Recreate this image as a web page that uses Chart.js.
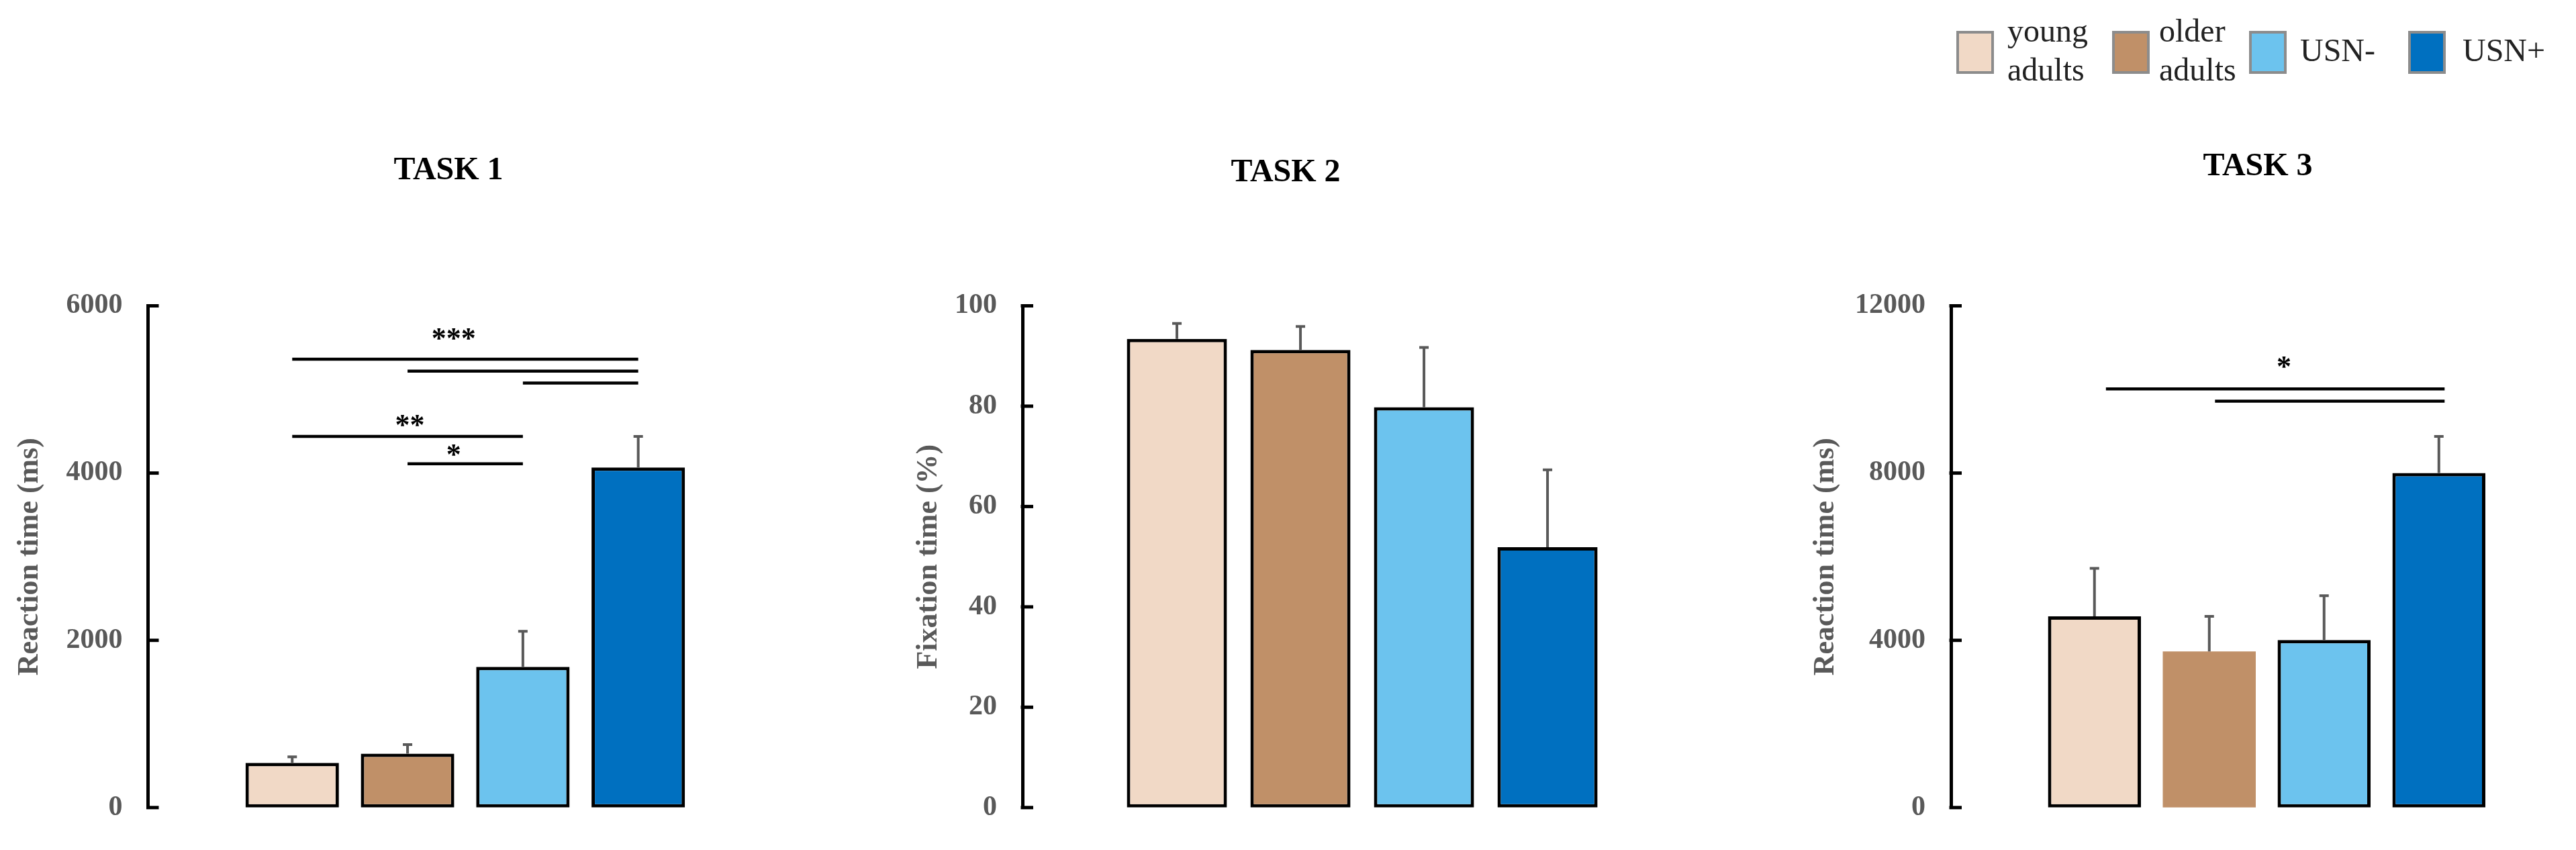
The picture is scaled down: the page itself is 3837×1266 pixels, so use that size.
<!DOCTYPE html>
<html>
<head>
<meta charset="utf-8">
<script src="https://cdn.jsdelivr.net/npm/chart.js@4.4.1/dist/chart.umd.min.js"></script>
<style>
  html, body { margin: 0; padding: 0; background: #ffffff; width: 3837px; height: 1266px; overflow: hidden; }
  canvas { position: absolute; top: 0; }
</style>
</head>
<body>
<canvas id="c1" width="1336" height="1266" style="left:0px"></canvas>
<canvas id="c2" width="1150" height="1266" style="left:1340px"></canvas>
<canvas id="c3" width="1337" height="1266" style="left:2500px"></canvas>
<script>
// ---------------- data ----------------
const groups = ['young adults', 'older adults', 'USN-', 'USN+'];
const groupColors = ['#F1D9C6', '#C09068', '#6CC3EE', '#0070C0'];

const taskTitles = ['TASK 1', 'TASK 2', 'TASK 3'];
const axisTitles = ['Reaction time (ms)', 'Fixation time (%)', 'Reaction time (ms)'];

const task1Means  = [535, 644, 1682, 4067];
const task1Errors = [71, 109, 425, 372];
const task1Ticks  = [0, 2000, 4000, 6000];
const task1SigLines = [[0, 3, 5361], [1, 3, 5219], [2, 3, 5077], [0, 2, 4438], [1, 2, 4111]];
const task1Stars    = [[1.40, 5667, '***'], [1.02, 4630, '**'], [1.40, 4275, '*']];

const task2Means  = [93.4, 91.2, 79.8, 51.9];
const task2Errors = [3.1, 4.7, 11.9, 15.4];
const task2Ticks  = [0, 20, 40, 60, 80, 100];

const task3Means  = [4575, 3734, 4007, 8003];
const task3Errors = [1146, 841, 1059, 874];
const task3Ticks  = [0, 4000, 8000, 12000];
const task3SigLines = [[0.1, 3.05, 10013], [1.05, 3.05, 9718]];
const task3Stars    = [[1.65, 10657, '*']];

// ---------------- styling ----------------
const FONT = "'Liberation Serif', 'Times New Roman', serif";
const LABEL_GRAY = '#595959';

function decorPlugin(means, errors, sigLines, stars) {
  return {
    id: 'decor',
    afterDatasetsDraw(chart) {
      const { ctx, chartArea } = chart;
      const xs = chart.scales.x, ys = chart.scales.y;
      ctx.save();
      // inward tick marks
      ctx.strokeStyle = '#000'; ctx.lineWidth = 5; ctx.lineCap = 'butt';
      ys.ticks.forEach(t => {
        const y = ys.getPixelForValue(t.value);
        ctx.beginPath(); ctx.moveTo(chartArea.left - 2.5, y); ctx.lineTo(chartArea.left + 16, y); ctx.stroke();
      });
      // error bars
      const meta = chart.getDatasetMeta(0);
      ctx.strokeStyle = '#595959'; ctx.lineWidth = 4;
      meta.data.forEach((bar, i) => {
        const yb = ys.getPixelForValue(means[i]);
        const yt = ys.getPixelForValue(means[i] + errors[i]);
        ctx.beginPath();
        ctx.moveTo(bar.x, yb); ctx.lineTo(bar.x, yt);
        ctx.moveTo(bar.x - 7, yt); ctx.lineTo(bar.x + 7, yt);
        ctx.stroke();
      });
      // significance lines
      ctx.strokeStyle = '#000'; ctx.lineWidth = 4.5;
      sigLines.forEach(([a, b, v]) => {
        const y = ys.getPixelForValue(v);
        ctx.beginPath(); ctx.moveTo(xs.getPixelForValue(a), y); ctx.lineTo(xs.getPixelForValue(b), y); ctx.stroke();
      });
      ctx.fillStyle = '#000';
      ctx.font = 'bold 44px ' + FONT;
      ctx.textAlign = 'center'; ctx.textBaseline = 'alphabetic';
      stars.forEach(([x, v, s]) => {
        ctx.fillText(s, xs.getPixelForValue(x), ys.getPixelForValue(v) + 0.47 * 44);
      });
      ctx.restore();
    }
  };
}

const legendPlugin = {
  id: 'groupLegend',
  afterDraw(chart) {
    const ctx = chart.ctx;
    const boxX = [414, 646, 850, 1087], textX = [490, 716, 926, 1168];
    const top = 46, w = 56, h = 64, lineGap = 58;
    ctx.save();
    groups.forEach((g, i) => {
      ctx.fillStyle = groupColors[i];
      ctx.fillRect(boxX[i], top, w, h);
      ctx.strokeStyle = '#8C8C8C'; ctx.lineWidth = 4;
      ctx.strokeRect(boxX[i] + 2, top + 2, w - 4, h - 4);
      ctx.fillStyle = '#222';
      ctx.font = '48px ' + FONT;
      ctx.textAlign = 'left'; ctx.textBaseline = 'middle';
      const lines = g.split(' ');
      const cy = top + h / 2;
      lines.forEach((ln, k) => ctx.fillText(ln, textX[i], cy + (k - (lines.length - 1) / 2) * lineGap));
    });
    ctx.restore();
  }
};

function makePanel(id, cfg) {
  const data = cfg.means.map((v, i) => ({ x: i, y: v }));
  const plugins = [decorPlugin(cfg.means, cfg.errors, cfg.sigLines, cfg.stars)];
  if (cfg.legend) plugins.push(legendPlugin);
  return new Chart(document.getElementById(id), {
    type: 'bar',
    data: {
      datasets: [{
        label: cfg.title,
        data: data,
        backgroundColor: groupColors,
        borderColor: '#000',
        borderWidth: cfg.borderWidths,
        borderSkipped: false,
        barPercentage: 0.81,
        categoryPercentage: 1.0
      }]
    },
    options: {
      responsive: false,
      animation: false,
      devicePixelRatio: 1,
      layout: { padding: { top: 0, bottom: 62, left: 0, right: cfg.padRight } },
      plugins: {
        legend: { display: false },
        tooltip: { enabled: false },
        title: {
          display: true,
          text: cfg.title,
          color: '#000',
          fullSize: cfg.titleFull,
          font: { family: FONT, size: 48, weight: 'bold', lineHeight: 1.2 },
          padding: { top: cfg.titleTop, bottom: cfg.titleBottom }
        }
      },
      scales: {
        x: {
          type: 'linear', display: false, offset: false,
          min: -1.25, max: cfg.xMax,
          afterBuildTicks: s => { s.ticks = groups.map((g, i) => ({ value: i })); }
        },
        y: {
          min: 0, max: cfg.ticks[cfg.ticks.length - 1],
          afterFit: s => { s.width = cfg.axisWidth; },
          afterBuildTicks: s => { s.ticks = cfg.ticks.map(v => ({ value: v })); },
          grid: { display: false, drawTicks: false },
          border: { display: true, color: '#000', width: 5 },
          ticks: {
            padding: 38, color: LABEL_GRAY,
            font: { family: FONT, size: 42, weight: 'bold' },
            callback: v => String(v)
          },
          title: {
            display: true, text: cfg.yTitle, color: LABEL_GRAY,
            font: { family: FONT, size: 44, weight: 'bold', lineHeight: 1.2 },
            padding: { top: cfg.yTitlePad, bottom: 0 }
          }
        }
      }
    },
    plugins: plugins
  });
}

makePanel('c1', {
  title: taskTitles[0], yTitle: axisTitles[0],
  means: task1Means, errors: task1Errors, ticks: task1Ticks,
  sigLines: task1SigLines, stars: task1Stars,
  borderWidths: [5, 5, 5, 5],
  axisWidth: 220.5, xMax: 5.243, padRight: 0, titleFull: true,
  titleTop: 225.7, titleBottom: 172.2, yTitlePad: 18.6
});

makePanel('c2', {
  title: taskTitles[1], yTitle: axisTitles[1],
  means: task2Means, errors: task2Errors, ticks: task2Ticks,
  sigLines: [], stars: [],
  borderWidths: [5, 5, 5, 5],
  axisWidth: 183, xMax: 4.005, padRight: 0, titleFull: true,
  titleTop: 229.2, titleBottom: 168.7, yTitlePad: 17.6
});

makePanel('c3', {
  title: taskTitles[2], yTitle: axisTitles[2],
  means: task3Means, errors: task3Errors, ticks: task3Ticks,
  sigLines: task3SigLines, stars: task3Stars,
  borderWidths: [5, 0, 5, 5],
  axisWidth: 406, xMax: 4.095, padRight: 17, titleFull: false,
  titleTop: 220.2, titleBottom: 177.7, yTitlePad: 193.6,
  legend: true
});
</script>
</body>
</html>
